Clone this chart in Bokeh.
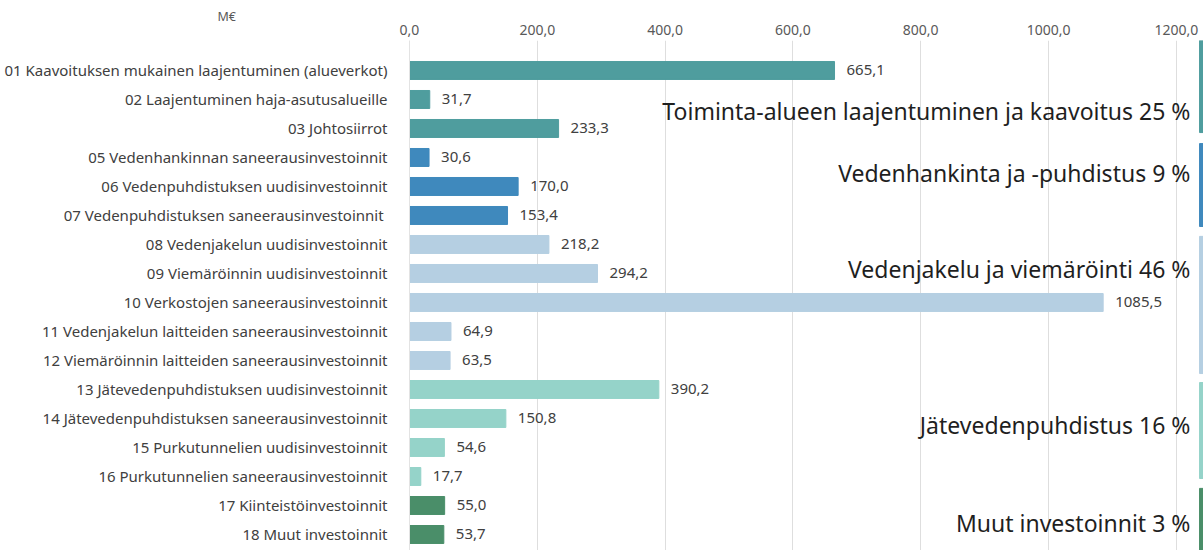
from bokeh.plotting import figure
from bokeh.models import Range1d, FixedTicker, ColumnDataSource
from bokeh.core.properties import value
from bokeh.embed import file_html
from bokeh.resources import INLINE

# ---- data ----
categories = [
    "01 Kaavoituksen mukainen laajentuminen (alueverkot)",
    "02 Laajentuminen haja-asutusalueille",
    "03 Johtosiirrot",
    "05 Vedenhankinnan saneerausinvestoinnit",
    "06 Vedenpuhdistuksen uudisinvestoinnit",
    "07  Vedenpuhdistuksen saneerausinvestoinnit",
    "08 Vedenjakelun uudisinvestoinnit",
    "09 Viemäröinnin uudisinvestoinnit",
    "10 Verkostojen saneerausinvestoinnit",
    "11 Vedenjakelun laitteiden saneerausinvestoinnit",
    "12 Viemäröinnin laitteiden saneerausinvestoinnit",
    "13 Jätevedenpuhdistuksen uudisinvestoinnit",
    "14 Jätevedenpuhdistuksen saneerausinvestoinnit",
    "15 Purkutunnelien uudisinvestoinnit",
    "16 Purkutunnelien saneerausinvestoinnit",
    "17 Kiinteistöinvestoinnit",
    "18 Muut investoinnit",
]
values = [665.1, 31.7, 233.3, 30.6, 170.0, 153.4, 218.2, 294.2, 1085.5,
          64.9, 63.5, 390.2, 150.8, 54.6, 17.7, 55.0, 53.7]
group_index = [0, 0, 0, 1, 1, 1, 2, 2, 2, 2, 2, 3, 3, 3, 3, 4, 4]
group_names = [
    "Toiminta-alueen laajentuminen ja kaavoitus 25 %",
    "Vedenhankinta ja -puhdistus 9 %",
    "Vedenjakelu ja viemäröinti 46 %",
    "Jätevedenpuhdistus 16 %",
    "Muut investoinnit 3 %",
]
tick_values = [0, 200, 400, 600, 800, 1000, 1200]
unit_label = "M€"

# ---- styles / layout ----
group_colors = ["#4f9d9e", "#3f89bd", "#b5cfe2", "#95d3c9", "#4a8e69"]
group_label_y = [1.38, 3.55, 6.83, 12.21, 15.59]
strip_spans = [(-1.04, 2.14), (2.52, 5.38), (5.72, 10.45), (10.76, 14.07), (14.41, 16.6)]
FONT = "Noto Sans"
X_END = 1242.5

n = len(categories)
ypos = list(range(n))
colors = [group_colors[g] for g in group_index]
fmt = lambda v: f"{v:.1f}".replace(".", ",")
src = ColumnDataSource(dict(y=ypos, v=values, c=colors, lab=[fmt(v) for v in values]))

p = figure(width=1203, height=550, output_backend="svg", toolbar_location=None,
           x_range=Range1d(0, X_END), y_range=Range1d(16.552, -1.034),
           x_axis_location="above", title=unit_label, title_location="above",
           min_border_left=409, min_border_right=0, min_border_top=40, min_border_bottom=0)
p.outline_line_color = None
p.background_fill_color = "white"

p.title.align = "left"
p.title.offset = -192
p.title.text_font = FONT
p.title.text_font_size = "12.5px"
p.title.text_font_style = "normal"
p.title.text_color = "#595959"
p.title.standoff = -7

# axes
xa = p.xaxis[0]
xa.ticker = FixedTicker(ticks=tick_values)
xa.major_label_overrides = {t: fmt(t) for t in tick_values}
xa.axis_line_color = None
xa.major_tick_line_color = None
xa.minor_tick_line_color = None
xa.major_label_standoff = 0
xa.major_label_text_font = FONT
xa.major_label_text_font_size = "14px"
xa.major_label_text_color = "#595959"

ya = p.yaxis[0]
ya.ticker = FixedTicker(ticks=ypos)
ya.major_label_overrides = {i: c for i, c in enumerate(categories)}
ya.axis_line_color = "#e3e3e3"
ya.major_tick_line_color = None
ya.minor_tick_line_color = None
ya.major_label_standoff = 16
ya.major_label_text_font = FONT
ya.major_label_text_font_size = "15px"
ya.major_label_text_color = "#404040"

p.xgrid.grid_line_color = "#dedede"
p.ygrid.grid_line_color = None

# bars
p.hbar(y="y", right="v", left=0, height=0.62, color="c", source=src)

# value labels
p.text(x="v", y="y", text="lab", source=src, x_offset=12,
       text_baseline="middle", text_align="left",
       text_font=value(FONT), text_font_size="15px", text_color="#404040")

# group strips on the right
for (a, b), col in zip(strip_spans, group_colors):
    p.quad(left=1236.3, right=X_END, top=a, bottom=b, color=col)

# group labels
p.text(x=[1222] * len(group_names), y=group_label_y, text=group_names,
       text_align="right", text_baseline="middle",
       text_font=value(FONT), text_font_size="23px", text_color="#1f1f1f")

open("out.html", "w").write(file_html(p, INLINE))
